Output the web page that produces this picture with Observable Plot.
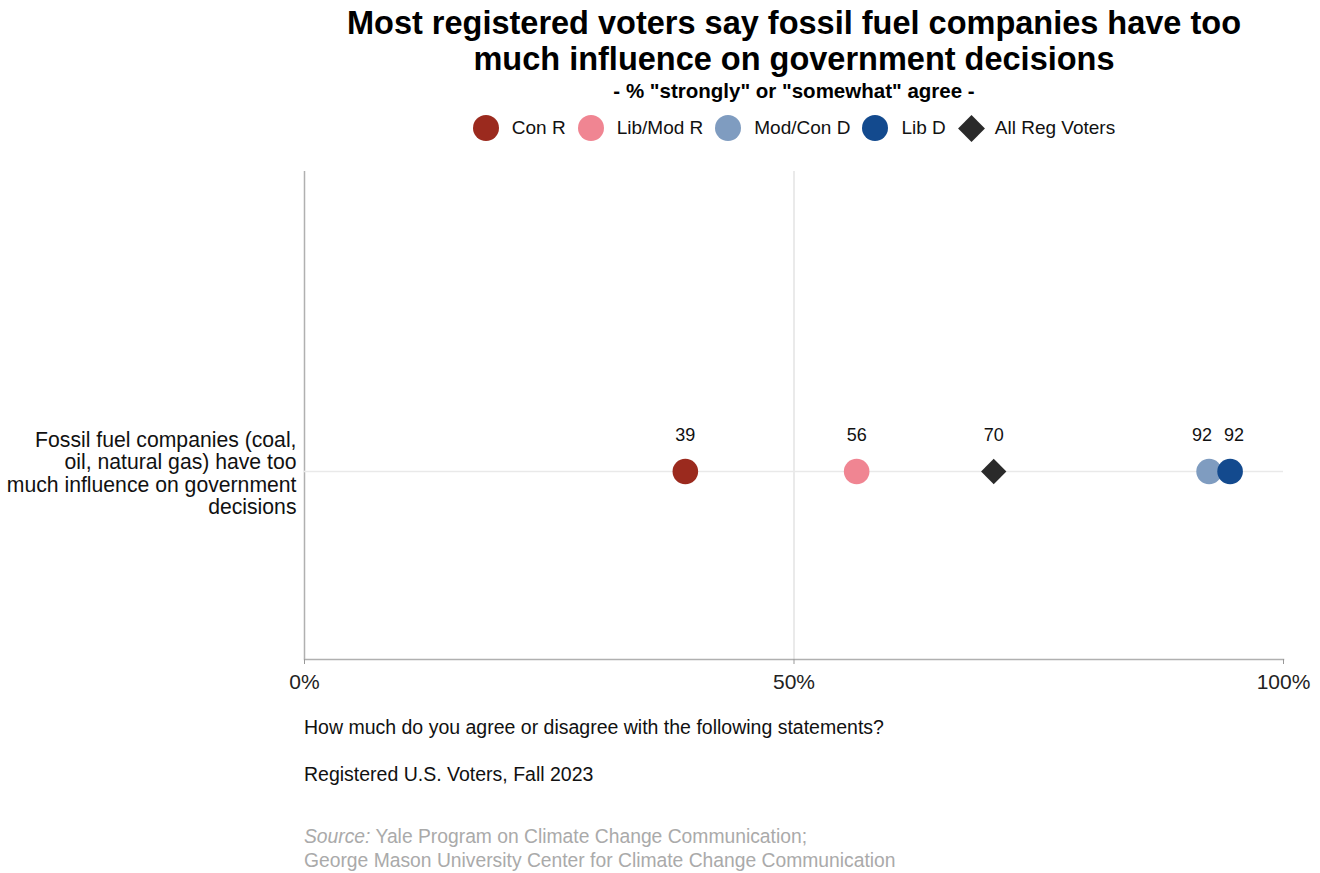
<!DOCTYPE html>
<html>
<head>
<meta charset="utf-8">
<script src="https://cdn.jsdelivr.net/npm/d3@7"></script>
<script src="https://cdn.jsdelivr.net/npm/@observablehq/plot@0.6"></script>
<style>
  body { margin: 0; background: #fff; font-family: "Liberation Sans", Arial, sans-serif; }
  #wrap { width: 1320px; position: relative; }
  .head { margin-left: 268px; width: 1052px; text-align: center; }
  h1 { margin: 0; padding-top: 5px; font-size: 32.5px; line-height: 36px; font-weight: bold; color: #000; white-space: nowrap; }
  .sub { font-size: 20.5px; font-weight: bold; margin-top: 2px; line-height: 24px; }
  .legend { display: flex; justify-content: center; align-items: center; margin-top: 10px; height: 30px; font-size: 19px; color: #111; }
  .legend .it { display: flex; align-items: center; margin: 0 6px; }
  .legend .sw { width: 26px; height: 26px; border-radius: 50%; margin-right: 13px; }
  .legend .dm { width: 19px; height: 19px; transform: rotate(45deg); margin: 0 14px 0 4px; }
  #chart { margin-top: 6px; height: 550px; }
  .cap { margin-left: 304px; font-size: 19.5px; line-height: 22px; color: #111; }
  .src { margin-left: 304px; font-size: 19.3px; color: #aaa; line-height: 24px; }
</style>
</head>
<body>
<div id="wrap">
  <div class="head">
    <h1 id="title"></h1>
    <div class="sub" id="subtitle"></div>
    <div class="legend" id="legend"></div>
  </div>
  <div id="chart"></div>
  <div class="cap" id="q" style="margin-top:17px"></div>
  <div class="cap" id="pop" style="margin-top:25px"></div>
  <div class="src" id="src" style="margin-top:40px"></div>
</div>
<script>
const titleLines = ["Most registered voters say fossil fuel companies have too", "much influence on government decisions"];
const subtitle = '- % "strongly" or "somewhat" agree -';
const statement = "Fossil fuel companies (coal, oil, natural gas) have too much influence on government decisions";
const groups = ["Con R", "Lib/Mod R", "Mod/Con D", "Lib D", "All Reg Voters"];
const values = [38.9, 56.4, 92.4, 92.4, 70.4];
const colors = ["#9B2A1E", "#F08592", "#7F9CC0", "#134A8E", "#2a2a2a"];
const xTicks = [0, 50, 100];
const question = "How much do you agree or disagree with the following statements?";
const population = "Registered U.S. Voters, Fall 2023";
const sourceLines = ["Yale Program on Climate Change Communication;", "George Mason University Center for Climate Change Communication"];

document.getElementById("title").innerHTML = titleLines.join("<br>");
document.getElementById("subtitle").textContent = subtitle;
document.getElementById("legend").innerHTML = groups.map((g, i) =>
  `<div class="it"><div class="${g === "All Reg Voters" ? "dm" : "sw"}" style="background:${colors[i]}"></div>${g}</div>`).join("");
document.getElementById("q").textContent = question;
document.getElementById("pop").textContent = population;
document.getElementById("src").innerHTML = `<i>Source:</i> ${sourceLines[0]}<br>${sourceLines[1]}`;

// greedy word wrap for the category label
function wrap(s, maxChars) {
  const words = s.split(" "), lines = [];
  let cur = "";
  for (const w of words) {
    if (cur && (cur + " " + w).length > maxChars) { lines.push(cur); cur = w; }
    else cur = cur ? cur + " " + w : w;
  }
  if (cur) lines.push(cur);
  return lines.join("\n");
}

// dodge: a point equal to an earlier one is nudged right so both remain visible
const data = groups.map((g, i) => {
  const dup = values.slice(0, i).some(v => v === values[i]);
  const hasDupAfter = values.slice(i + 1).some(v => v === values[i]);
  return {
    group: g, value: values[i], statement, color: colors[i],
    label: String(Math.round(values[i])),
    dotDx: dup ? 21 : 0,
    labelDx: dup ? 25 : (hasDupAfter ? -7 : 0)
  };
});

const marks = [
  Plot.ruleX([50], {stroke: "#dcdcdc", strokeWidth: 1.2}),
  Plot.ruleX([0], {stroke: "#b0b0b0", strokeWidth: 1.5}),
  Plot.frame({anchor: "bottom", stroke: "#b0b0b0", strokeWidth: 1.5}),
  Plot.ruleY([statement], {x1: 0, x2: 100, stroke: "#e9e9e9", strokeWidth: 1.5}),
  Plot.axisX({ticks: xTicks, tickFormat: d => d + "%", tickSize: 5, stroke: "#999", fontSize: 21, tickPadding: 10, label: null, fill: "#222"}),
  Plot.axisY({tickSize: 0, tickPadding: 8, tickFormat: d => wrap(d, 28), lineHeight: 1.06, fontSize: 21.2, dy: 2, label: null, fill: "#111", textAnchor: "end"})
];
data.forEach(d => {
  const isAll = d.group === "All Reg Voters";
  marks.push(Plot.dot([d], {x: "value", y: "statement", fill: "color", r: isAll ? 11.4 : 12.8,
    symbol: isAll ? "diamond2" : "circle", dx: d.dotDx}));
  marks.push(Plot.text([d], {x: "value", y: "statement", text: "label", dy: -36, dx: d.labelDx, fontSize: 18, fill: "#111"}));
});

const plot = Plot.plot({
  width: 1320,
  height: 550,
  marginLeft: 304,
  marginRight: 37,
  marginTop: 22,
  marginBottom: 40,
  style: {fontFamily: "Liberation Sans, Arial, sans-serif", background: "#fff", overflow: "visible"},
  x: {domain: [0, 100]},
  y: {type: "point", domain: [statement], range: [322, 322]},
  color: {type: "identity"},
  marks
});
document.getElementById("chart").appendChild(plot);
</script>
</body>
</html>
